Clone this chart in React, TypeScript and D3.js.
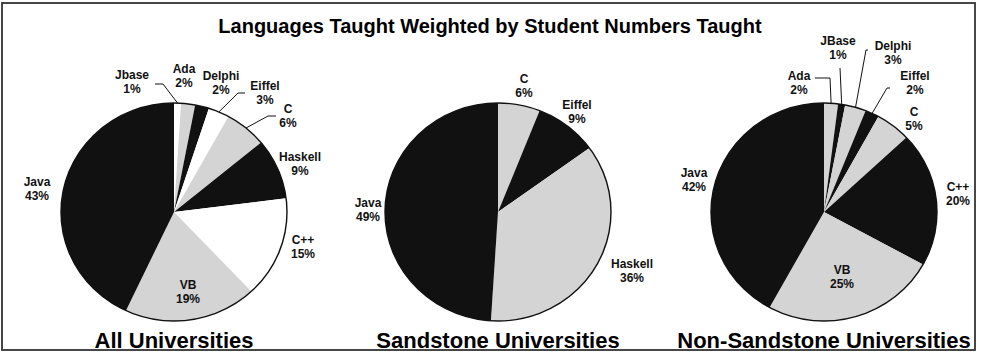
import React from "react";
import * as d3 from "d3";

const W = 982;
const H = 362;

const titleText = "Languages Taught Weighted by Student Numbers Taught";
const pieTitles = ["All Universities", "Sandstone Universities", "Non-Sandstone Universities"];

const allNames = ["Jbase", "Ada", "Delphi", "Eiffel", "C", "Haskell", "C++", "VB", "Java"];
const allValues = [1, 2, 2, 3, 6, 9, 15, 19, 43];
const allShades = ["white", "gray", "black", "white", "gray", "black", "white", "gray", "black"];

const sandNames = ["C", "Eiffel", "Haskell", "Java"];
const sandValues = [6, 9, 36, 49];
const sandShades = ["gray", "black", "gray", "black"];

const nonNames = ["Ada", "JBase", "Delphi", "Eiffel", "C", "C++", "VB", "Java"];
const nonValues = [2, 1, 3, 2, 5, 20, 25, 42];
const nonShades = ["gray", "black", "gray", "black", "gray", "black", "gray", "black"];

// layout (relative to pie centre): label centre, optional leader elbow + end
type Lab = { dx: number; dy: number; leader?: [number, number, number, number] };
const allLabels: Lab[] = [
  { dx: -42, dy: -130, leader: [-11, -128, -19, -128] },
  { dx: 10, dy: -136.5 },
  { dx: 47, dy: -129 },
  { dx: 91, dy: -119, leader: [64, -119, 71, -119] },
  { dx: 114, dy: -96, leader: [94, -96, 102, -96] },
  { dx: 126, dy: -48 },
  { dx: 129, dy: 35 },
  { dx: 14, dy: 80 },
  { dx: -137, dy: -23 },
];
const sandLabels: Lab[] = [
  { dx: 26, dy: -126 },
  { dx: 79, dy: -100 },
  { dx: 134, dy: 59 },
  { dx: -130, dy: -2 },
];
const nonLabels: Lab[] = [
  { dx: -25, dy: -129, leader: [6, -134, -9, -134] },
  { dx: 14, dy: -164, leader: [16, -144, 16, -144] },
  { dx: 69, dy: -159, leader: [42, -162, 44, -162] },
  { dx: 91, dy: -129, leader: [63, -124, 66, -124] },
  { dx: 90, dy: -93 },
  { dx: 134, dy: -18 },
  { dx: 18, dy: 65 },
  { dx: -130, dy: -32 },
];

const shadeColor: Record<string, string> = {
  white: "#ffffff",
  gray: "#d4d4d4",
  black: "#111111",
};

const FONT = "'Liberation Sans', Arial, Helvetica, sans-serif";

const pies = [
  { names: allNames, values: allValues, shades: allShades, labels: allLabels, cx: 174 },
  { names: sandNames, values: sandValues, shades: sandShades, labels: sandLabels, cx: 498 },
  { names: nonNames, values: nonValues, shades: nonShades, labels: nonLabels, cx: 824 },
];

const CY = 212;
const RX = 113;
const RY = 109;

function Pie({ p, title }: { p: (typeof pies)[number]; title: string }) {
  const data = p.values.map((v, i) => ({ v, i }));
  const arcs = d3.pie<{ v: number; i: number }>().sort(null).value((d) => d.v)(data);
  const arcGen = d3.arc<d3.PieArcDatum<{ v: number; i: number }>>().innerRadius(0).outerRadius(RX);
  const total = d3.sum(p.values);
  return (
    <g>
      <g transform={`translate(${p.cx},${CY}) scale(1,${RY / RX})`}>
        {arcs.map((a, k) => (
          <path key={k} d={arcGen(a) || ""} fill={shadeColor[p.shades[k]]} />
        ))}
      </g>
      <ellipse cx={p.cx} cy={CY} rx={RX} ry={RY} fill="none" stroke="#111" strokeWidth={1.4} />
      {arcs.map((a, k) => {
        const lab = p.labels[k];
        const mid = (a.startAngle + a.endAngle) / 2;
        const ex = p.cx + RX * Math.sin(mid);
        const ey = CY - RY * Math.cos(mid);
        const lx = p.cx + lab.dx;
        const ly = CY + lab.dy;
        const pct = Math.round((p.values[k] / total) * 100) + "%";
        return (
          <g key={k}>
            {lab.leader && (
              <polyline
                points={`${ex},${ey} ${p.cx + lab.leader[0]},${CY + lab.leader[1]} ${p.cx + lab.leader[2]},${CY + lab.leader[3]}`}
                fill="none"
                stroke="#111"
                strokeWidth={1}
              />
            )}
            <text x={lx} y={ly - 7 + 4.3} textAnchor="middle" fontFamily={FONT} fontWeight="bold" fontSize={12} fill="#111">
              {p.names[k]}
            </text>
            <text x={lx} y={ly + 7 + 4.3} textAnchor="middle" fontFamily={FONT} fontWeight="bold" fontSize={12} fill="#111">
              {pct}
            </text>
          </g>
        );
      })}
      <text x={p.cx} y={347.5} textAnchor="middle" fontFamily={FONT} fontWeight="bold" fontSize={22} fill="#000">
        {title}
      </text>
    </g>
  );
}

export default function App() {
  return (
    <svg
      width={W}
      height={H}
      style={{ position: "absolute", left: 0, top: 0, background: "#fff" }}
      xmlns="http://www.w3.org/2000/svg"
    >
      <rect x={0} y={0} width={W} height={H} fill="#fff" />
      <rect x={2} y={3} width={973} height={347} fill="none" stroke="#333" strokeWidth={1.8} />
      <text x={490} y={32.5} textAnchor="middle" fontFamily={FONT} fontWeight="bold" fontSize={20} fill="#000">
        {titleText}
      </text>
      {pies.map((p, i) => (
        <Pie key={i} p={p} title={pieTitles[i]} />
      ))}
    </svg>
  );
}
